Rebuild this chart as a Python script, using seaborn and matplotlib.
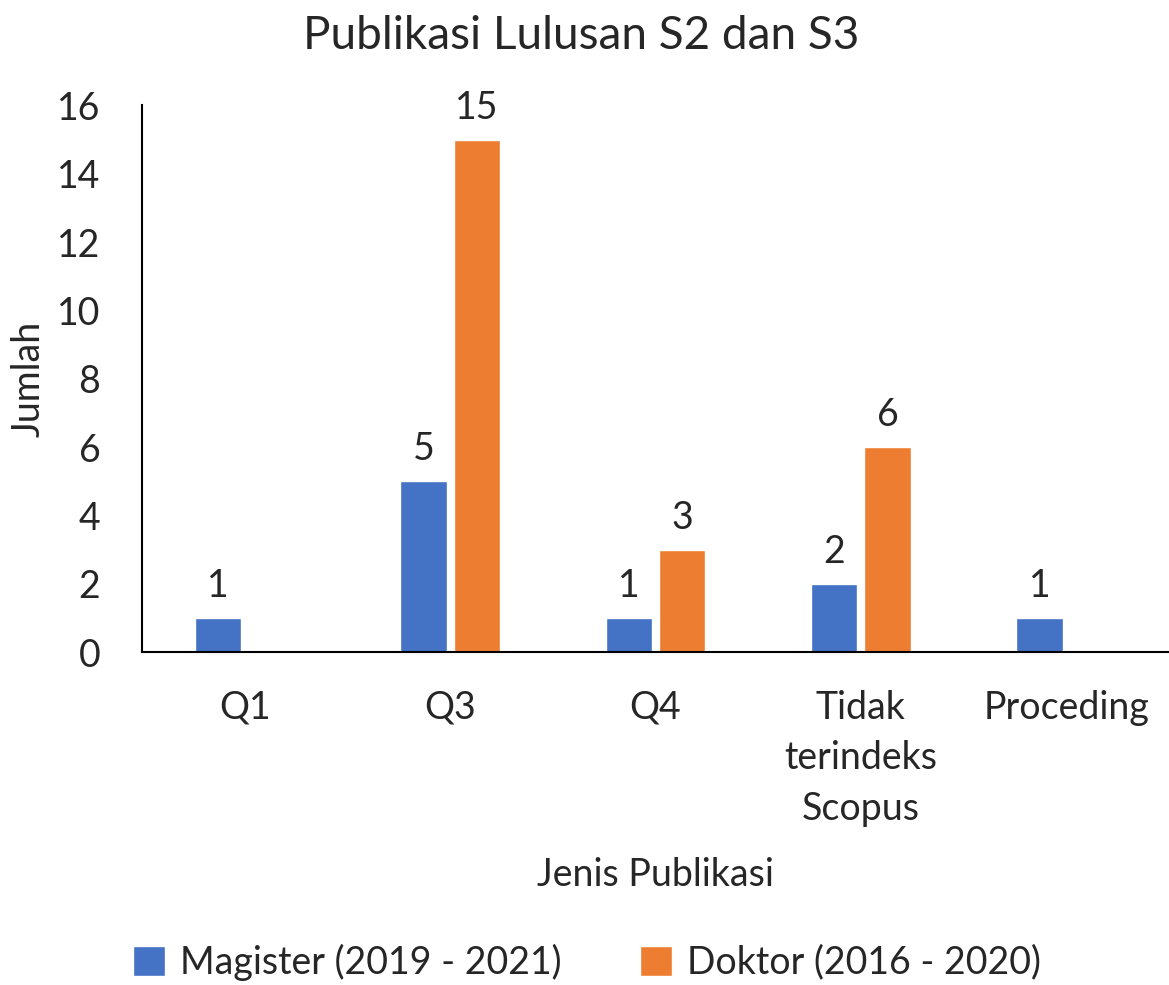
import pandas as pd
import numpy as np
import matplotlib.pyplot as plt
import seaborn as sns

# Data
categories = ['Q1', 'Q3', 'Q4', 'Tidak\nterindeks\nScopus', 'Proceding']
magister = [1, 5, 1, 2, 1]
doktor = [0, 15, 3, 6, 0]
series_names = ['Magister (2019 - 2021)', 'Doktor (2016 - 2020)']

sns.set_theme(style='white')
plt.rcParams['font.family'] = ['Lato', 'DejaVu Sans']

df = pd.DataFrame({
    'Jenis': categories * 2,
    'Jumlah': magister + doktor,
    'Seri': [series_names[0]] * len(categories) + [series_names[1]] * len(categories),
})

fig = plt.figure(figsize=(11.69, 9.85), dpi=100)
ax = fig.add_axes([0.1215, 0.338, 0.8785, 0.555])

sns.barplot(data=df, x='Jenis', y='Jumlah', hue='Seri', order=categories,
            hue_order=series_names, palette=['#4472C4', '#ED7D31'],
            width=0.52, gap=0.13, ax=ax, legend=True, saturation=1)

# value labels, skip zeros (empty in the original)
for container in ax.containers:
    labels = [f'{v:.0f}' if v > 0 else '' for v in container.datavalues]
    ax.bar_label(container, labels=labels, padding=10, fontsize=27)

ax.set_ylim(0, 16)
ax.set_xlim(-0.5, 4.5)
ax.set_yticks(range(0, 17, 2))
ax.tick_params(axis='y', labelsize=27, length=0, pad=30)
ax.tick_params(axis='x', labelsize=27, length=0, pad=27)
for lbl in ax.get_yticklabels():
    lbl.set_horizontalalignment('right')
for lbl in ax.get_xticklabels():
    lbl.set_linespacing(1.5)

ax.set_xlabel('Jenis Publikasi', fontsize=27)
ax.xaxis.set_label_coords(0.5, -0.375)
ax.set_ylabel('Jumlah', fontsize=27)
ax.yaxis.set_label_coords(-0.093, 0.5)
fig.suptitle('Publikasi Lulusan S2 dan S3', fontsize=33, x=0.497, y=0.985, va='top')

for side in ['top', 'right']:
    ax.spines[side].set_visible(False)
for side in ['left', 'bottom']:
    ax.spines[side].set_color('black')
    ax.spines[side].set_linewidth(1.5)

ax.legend(loc='center', bbox_to_anchor=(0.433, -0.567), ncol=2, frameon=False,
          fontsize=27, handlelength=0.85, handleheight=0.85, columnspacing=2.1,
          handletextpad=0.4)

plt.savefig('out.png', dpi=100)
plt.close()
